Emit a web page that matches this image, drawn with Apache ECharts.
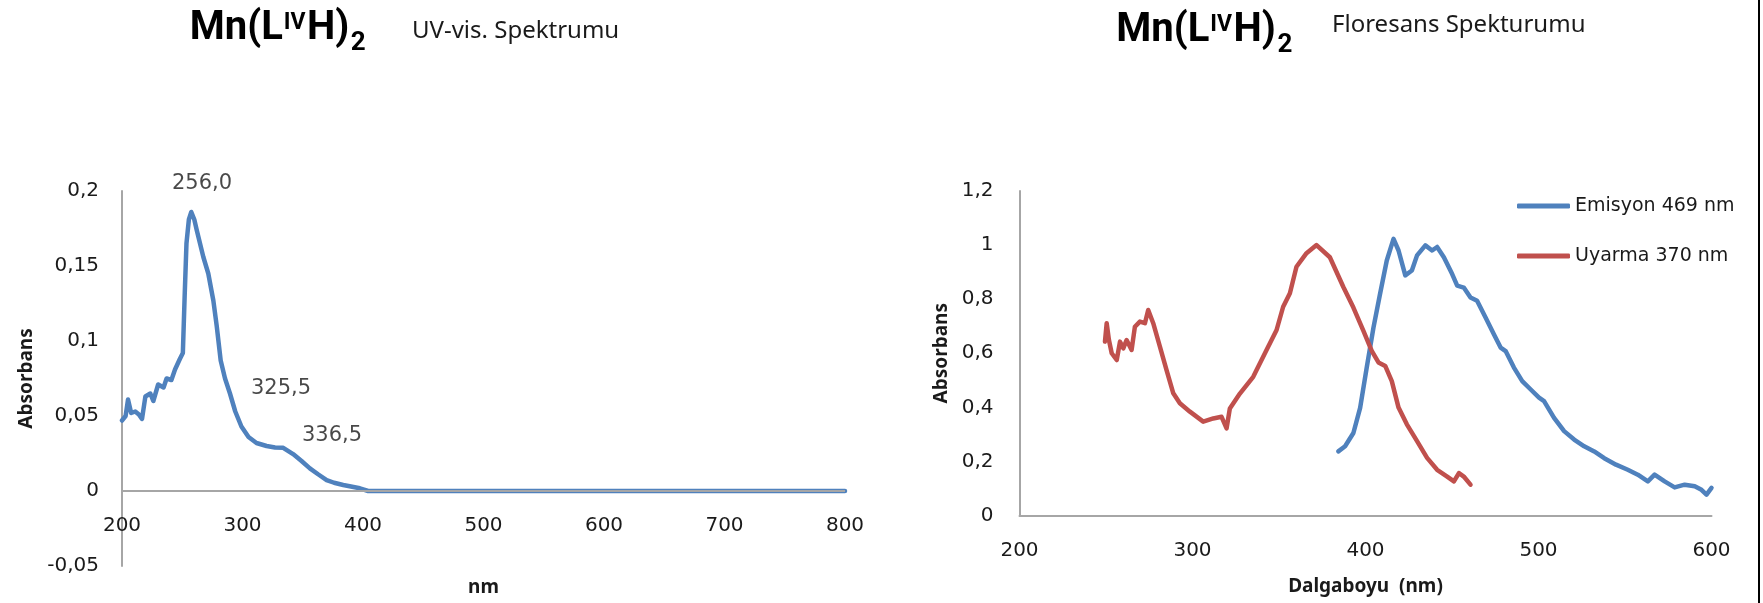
<!DOCTYPE html>
<html>
<head>
<meta charset="utf-8">
<script src="https://cdn.jsdelivr.net/npm/echarts@6/dist/echarts.min.js"></script>
<style>html,body{margin:0;padding:0;background:#fff;}#c{width:1763px;height:603px;}</style>
</head>
<body>
<div id="c"></div>
<script>
// ---------- UV-vis spectrum ----------
const uvWavelength = [200,203,205,207.6,211,214,216.6,219.4,223.5,226,230,234.5,237,241,244,248,250.5,252,253.5,255.5,257.5,260,262,267.5,271.6,275.8,278.6,281.9,285.5,289.6,294,299.1,305,311.6,320,327,333.8,342,349,355.9,363,369.8,376,383.6,390,397.4,404.3,500,600,700,800];
const uvAbsorbance = [0.047,0.05,0.061,0.052,0.053,0.051,0.048,0.063,0.065,0.060,0.071,0.069,0.075,0.074,0.081,0.088,0.092,0.13,0.165,0.181,0.186,0.181,0.174,0.156,0.145,0.127,0.110,0.087,0.075,0.065,0.053,0.043,0.036,0.032,0.030,0.029,0.0288,0.0246,0.020,0.0151,0.011,0.0073,0.0055,0.004,0.003,0.0018,0,0,0,0,0];
const uvXTicks = ['200','300','400','500','600','700','800'];
const uvYTicks = ['-0,05','0','0,05','0,1','0,15','0,2'];
const annX = [266.4, 332, 374.3];
const annY = [0.2047, 0.068, 0.0373];
const annText = ['256,0', '325,5', '336,5'];

// ---------- Fluorescence spectrum ----------
const emWavelength = [384.3,388.2,393,396.9,400.7,404.6,408.4,412.3,416.2,419.1,423,426.8,429.8,434.6,438.5,441.4,445.3,450.1,453,456.8,460.7,464.5,469.4,474.2,478.1,481,485.8,490.6,495.5,500.3,503.2,509,514.8,520.6,526.4,532.2,538,544.8,551.6,557.4,563.2,567.1,572.9,578.7,584.5,590.3,594.2,597.1,600];
const emIntensity = [0.237,0.256,0.305,0.398,0.547,0.695,0.819,0.943,1.023,0.980,0.888,0.906,0.962,0.999,0.980,0.993,0.955,0.893,0.850,0.843,0.806,0.794,0.732,0.670,0.621,0.608,0.547,0.497,0.466,0.436,0.423,0.361,0.312,0.281,0.256,0.237,0.212,0.188,0.169,0.151,0.126,0.151,0.126,0.104,0.114,0.108,0.095,0.077,0.102];
const exWavelength = [249.4,250.4,251.7,253.3,256.2,258.1,260,261.9,264.8,266.7,269.6,272.5,274.4,277.3,281.2,285,288.9,292.7,298.5,306.2,312,316.8,319.7,321.6,327.4,335.1,342.8,348.6,352.4,356.3,360.1,365.9,371.7,379.4,387.2,393,398.8,403.6,407.5,411.4,415.2,419.1,423.9,429.8,435.6,441.4,447.2,451.1,454,456.8,460.7];
const exIntensity = [0.643,0.711,0.649,0.600,0.575,0.643,0.618,0.649,0.612,0.698,0.717,0.711,0.760,0.711,0.624,0.538,0.452,0.415,0.384,0.347,0.359,0.365,0.322,0.396,0.451,0.513,0.612,0.686,0.772,0.822,0.920,0.970,1.000,0.955,0.845,0.769,0.683,0.609,0.566,0.553,0.497,0.399,0.337,0.275,0.213,0.169,0.144,0.126,0.157,0.144,0.114];
const flXTicks = ['200','300','400','500','600'];
const flYTicks = ['0','0,2','0,4','0,6','0,8','1','1,2'];
const seriesNames = ['Emisyon 469 nm', 'Uyarma 370 nm'];

const BLUE = '#4F81BD', RED = '#C0504D', AXIS = '#A6A6A6', TXT = '#1a1a1a';
const tickFont = {fontFamily: 'DejaVu Sans', fontSize: 20, color: TXT};
const nameFont = {fontFamily: 'Noto Sans', fontSize: 19, fontWeight: 'bold', color: TXT};

function pairs(xs, ys) { return xs.map((x, i) => [x, ys[i]]); }

// title pieces: Mn(L  ^IV  H)  _2, chained horizontally using measured widths
const measureCtx = document.createElement('canvas').getContext('2d');
function textWidth(t, size) {
  measureCtx.font = 'bold ' + size + 'px Roboto';
  return measureCtx.measureText(t).width;
}
function titlePieces(x0, dy) {
  const mk = (t, x, y, size) => ({type: 'text', x: x, y: y + dy,
    style: {text: t, fontFamily: 'Roboto', fontWeight: 'bold', fontSize: size, fill: '#000', textVerticalAlign: 'middle'}});
  const x1 = x0 - 2;
  const x2 = x1 + textWidth('Mn(L', 40) + 1;
  const x3 = x2 + textWidth('IV', 23) + 1.5;
  const x4 = x3 + textWidth('H)', 40) + 1.5;
  return [
    mk('Mn(L', x1, 28.6, 40),
    mk('IV', x2, 23.3, 23),
    mk('H)', x3, 28.6, 40),
    mk('2', x4, 43.5, 26)
  ];
}

const chart = echarts.init(document.getElementById('c'));
chart.setOption({
  animation: false,
  backgroundColor: '#fff',
  graphic: [].concat(
    titlePieces(191.7, 0),
    [{type: 'text', x: 412, y: 31.5, style: {text: 'UV-vis. Spektrumu', fontFamily: 'Noto Sans', fontSize: 24, fill: '#1a1a1a', textVerticalAlign: 'middle'}}],
    titlePieces(1118.3, 2),
    [{type: 'text', x: 1332, y: 25, style: {text: 'Floresans Spekturumu', fontFamily: 'Noto Sans', fontSize: 24, fill: '#1a1a1a', textVerticalAlign: 'middle'}},
     {type: 'line', shape: {x1: 1759, y1: 0, x2: 1759, y2: 603}, style: {stroke: '#000', lineWidth: 2}}]
  ),
  legend: {
    orient: 'vertical', left: 1517, top: 196, padding: 0, itemWidth: 53, itemHeight: 5, itemGap: 30,
    icon: 'roundRect', data: seriesNames,
    textStyle: {fontFamily: 'DejaVu Sans', fontSize: 19, lineHeight: 20, color: TXT}
  },
  grid: [
    {left: 122, top: 191, width: 723, height: 375, outerBoundsMode: 'none'},
    {left: 1019.5, top: 191, width: 692, height: 324.5, outerBoundsMode: 'none'}
  ],
  xAxis: [
    {
      type: 'value', gridIndex: 0, min: 200, max: 800, interval: 100,
      name: 'nm', nameLocation: 'middle', nameGap: 12, nameTextStyle: nameFont,
      axisLine: {show: false, onZero: false},
      axisTick: {show: false}, splitLine: {show: false},
      axisLabel: Object.assign({margin: -50, formatter: (v, i) => uvXTicks[i]}, tickFont)
    },
    {
      type: 'value', gridIndex: 1, min: 200, max: 600, interval: 100,
      name: 'Dalgaboyu  (nm)', nameLocation: 'middle', nameGap: 62, nameTextStyle: nameFont,
      axisLine: {onZero: false, lineStyle: {color: AXIS, width: 2}},
      axisTick: {show: false}, splitLine: {show: false},
      axisLabel: Object.assign({margin: 25, formatter: (v, i) => flXTicks[i]}, tickFont)
    }
  ],
  yAxis: [
    {
      type: 'value', gridIndex: 0, min: -0.05, max: 0.2, interval: 0.05,
      name: 'Absorbans', nameLocation: 'middle', nameGap: 86, nameRotate: 90, nameTextStyle: nameFont,
      axisLine: {show: true, onZero: false, lineStyle: {color: AXIS, width: 2}},
      axisTick: {show: false}, splitLine: {show: false},
      axisLabel: Object.assign({margin: 23, formatter: (v, i) => uvYTicks[i]}, tickFont)
    },
    {
      type: 'value', gridIndex: 1, min: 0, max: 1.2, interval: 0.2,
      name: 'Absorbans', nameLocation: 'middle', nameGap: 68, nameRotate: 90, nameTextStyle: nameFont,
      axisLine: {show: true, onZero: false, lineStyle: {color: AXIS, width: 2}},
      axisTick: {show: false}, splitLine: {show: false},
      axisLabel: Object.assign({margin: 26, formatter: (v, i) => flYTicks[i]}, tickFont)
    }
  ],
  series: [
    {
      type: 'scatter', name: 'labels', xAxisIndex: 0, yAxisIndex: 0, symbolSize: 0, clip: false, silent: true, z: 1,
      data: annX.map((x, i) => [x, annY[i], annText[i]]),
      label: {show: true, position: 'inside', formatter: p => p.value[2], fontFamily: 'DejaVu Sans', fontSize: 21, color: TXT},
      markLine: {silent: true, symbol: 'none', label: {show: false}, lineStyle: {color: AXIS, width: 2, type: 'solid'}, data: [{yAxis: 0}]}
    },
    {
      type: 'line', name: 'UV', xAxisIndex: 0, yAxisIndex: 0, showSymbol: false, z: 3,
      data: pairs(uvWavelength, uvAbsorbance),
      lineStyle: {color: BLUE, width: 4.5, cap: 'round', join: 'round'}, itemStyle: {color: BLUE}
    },
    {
      type: 'line', name: seriesNames[0], xAxisIndex: 1, yAxisIndex: 1, showSymbol: false,
      data: pairs(emWavelength, emIntensity),
      lineStyle: {color: BLUE, width: 4.5, cap: 'round', join: 'round'}, itemStyle: {color: BLUE}
    },
    {
      type: 'line', name: seriesNames[1], xAxisIndex: 1, yAxisIndex: 1, showSymbol: false,
      data: pairs(exWavelength, exIntensity),
      lineStyle: {color: RED, width: 4.5, cap: 'round', join: 'round'}, itemStyle: {color: RED}
    }
  ]
});
</script>
</body>
</html>
